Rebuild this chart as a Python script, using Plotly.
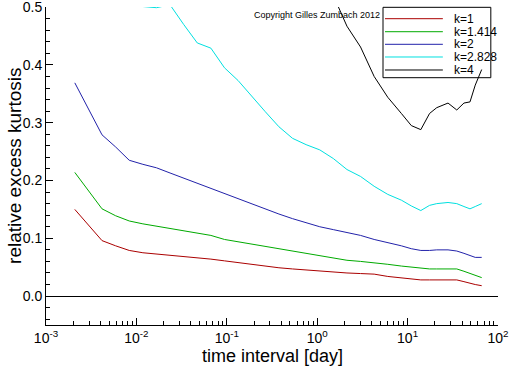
import plotly.graph_objects as go

# time interval in days
time_days = [0.002083, 0.002946, 0.004167, 0.005893, 0.008333, 0.01179, 0.01667, 0.02357,
             0.03333, 0.04714, 0.06667, 0.09428, 0.1333, 0.1886, 0.2667, 0.3771, 0.5333,
             0.7542, 1.0667, 1.508, 2.133, 3.017, 4.267, 6.034, 8.533, 11.0, 14.0, 17.5,
             21.0, 28.0, 35.0, 42.0, 49.0, 56.0, 66.0]

k1 = [0.150, 0.123, 0.096, 0.087, 0.079, 0.075, 0.073, 0.070, 0.068, 0.066, 0.064, 0.061,
      0.058, 0.055, 0.051, 0.049, 0.047, 0.045, 0.043, 0.041, 0.040, 0.039, 0.038, 0.034,
      0.031, 0.029, 0.028, 0.028, 0.028, 0.028, 0.028, 0.025, 0.022, 0.020, 0.018]
k1414 = [0.214, 0.183, 0.151, 0.139, 0.130, 0.125, 0.121, 0.118, 0.114, 0.109, 0.105, 0.098,
         0.094, 0.090, 0.085, 0.081, 0.077, 0.073, 0.069, 0.066, 0.062, 0.060, 0.058, 0.055,
         0.052, 0.050, 0.048, 0.047, 0.047, 0.047, 0.047, 0.043, 0.039, 0.036, 0.032]
k2 = [0.369, 0.323, 0.279, 0.258, 0.235, 0.228, 0.222, 0.213, 0.204, 0.196, 0.187, 0.178,
      0.169, 0.160, 0.150, 0.142, 0.134, 0.127, 0.120, 0.115, 0.110, 0.105, 0.098, 0.093,
      0.087, 0.082, 0.079, 0.079, 0.080, 0.080, 0.078, 0.074, 0.070, 0.067, 0.067]
k2828 = [0.600, 0.570, 0.540, 0.520, 0.510, 0.501, 0.499, 0.504, 0.470, 0.438, 0.429, 0.395,
         0.373, 0.345, 0.319, 0.293, 0.273, 0.262, 0.253, 0.238, 0.219, 0.207, 0.190, 0.176,
         0.166, 0.156, 0.148, 0.157, 0.160, 0.162, 0.160, 0.155, 0.151, 0.155, 0.160]
k4 = [None, None, None, None, None, None, None, None, None, None, None, None,
      None, None, None, None, None, None, 0.560, 0.520, 0.467, 0.431, 0.380, 0.344,
      0.316, 0.295, 0.288, 0.316, 0.326, 0.334, 0.322, 0.334, 0.336, 0.365, 0.392]

series_names = ["k=1", "k=1.414", "k=2", "k=2.828", "k=4"]
series_values = [k1, k1414, k2, k2828, k4]
series_colors = ["#aa0000", "#00aa00", "#2222aa", "#00e0e0", "#000000"]

x_tick_vals = [0.001, 0.01, 0.1, 1, 10, 100]
x_tick_text = ["10<sup>-3</sup>", "10<sup>-2</sup>", "10<sup>-1</sup>",
               "10<sup>0</sup>", "10<sup>1</sup>", "10<sup>2</sup>"]
y_tick_vals = [0.0, 0.1, 0.2, 0.3, 0.4, 0.5]

FONT = "Liberation Sans"

fig = go.Figure()
for name, vals, col in zip(series_names, series_values, series_colors):
    fig.add_trace(go.Scatter(x=time_days, y=vals, mode="lines", name=name,
                             line=dict(color=col, width=1), connectgaps=False,
                             showlegend=False, hoverinfo="skip"))

# manual legend (box, line samples, labels)
shapes = [dict(type="rect", xref="paper", yref="paper", x0=0.7456, x1=0.9841,
               y0=0.7777, y1=0.999, line=dict(color="black", width=1))]
annotations = []
row_y = [0.9632, 0.9223, 0.8827, 0.8428, 0.8019]
for name, col, yy in zip(series_names, series_colors, row_y):
    shapes.append(dict(type="line", xref="paper", yref="paper", x0=0.750, x1=0.878,
                       y0=yy, y1=yy, line=dict(color=col, width=1)))
    annotations.append(dict(xref="paper", yref="paper", x=0.898, y=yy, text=name,
                            showarrow=False, xanchor="left", yanchor="middle",
                            font=dict(family=FONT, size=12, color="black")))

annotations.append(dict(xref="paper", yref="paper", x=0.6006, y=0.9748,
                        text="Copyright Gilles Zumbach 2012", showarrow=False,
                        xanchor="center", yanchor="middle",
                        font=dict(family=FONT, size=9, color="black")))

# axis titles
annotations.append(dict(xref="paper", yref="paper", x=0.5, y=-0.097,
                        text="time interval [day]", showarrow=False,
                        xanchor="center", yanchor="middle",
                        font=dict(family=FONT, size=18, color="black")))
annotations.append(dict(xref="paper", yref="paper", x=-0.071, y=0.5,
                        text="relative excess kurtosis", showarrow=False, textangle=-90,
                        xanchor="center", yanchor="middle",
                        font=dict(family=FONT, size=19, color="black")))

fig.update_layout(
    width=512, height=366,
    margin=dict(l=46, r=14, t=7, b=41, pad=0),
    paper_bgcolor="white", plot_bgcolor="white",
    font=dict(family=FONT, color="black"),
    shapes=shapes, annotations=annotations,
    showlegend=False, hovermode=False,
)
fig.update_xaxes(
    type="log", range=[-3, 2], tickvals=x_tick_vals, ticktext=x_tick_text,
    showline=True, linecolor="black", linewidth=1, mirror=False,
    ticks="inside", ticklen=7, tickcolor="black", showgrid=False, zeroline=False,
    minor=dict(ticks="inside", ticklen=4, tickcolor="black", dtick="D1", showgrid=False),
    tickfont=dict(family=FONT, size=14, color="black"),
    ticklabeloverflow="allow",
    automargin=False,
)
fig.update_yaxes(
    range=[-0.05, 0.5002], tickvals=y_tick_vals, tickformat=".1f",
    showline=True, linecolor="black", linewidth=1, mirror=False,
    ticks="inside", ticklen=7, tickcolor="black", showgrid=False,
    zeroline=True, zerolinecolor="black", zerolinewidth=1,
    minor=dict(ticks="inside", ticklen=4, tickcolor="black", dtick=0.02, tick0=0, showgrid=False),
    tickfont=dict(family=FONT, size=14, color="black"),
    ticklabeloverflow="allow",
    automargin=False,
)

fig.write_html("out.html", config={"displayModeBar": False, "staticPlot": True},
               post_script="document.body.style.margin='0';document.body.style.padding='0';")
